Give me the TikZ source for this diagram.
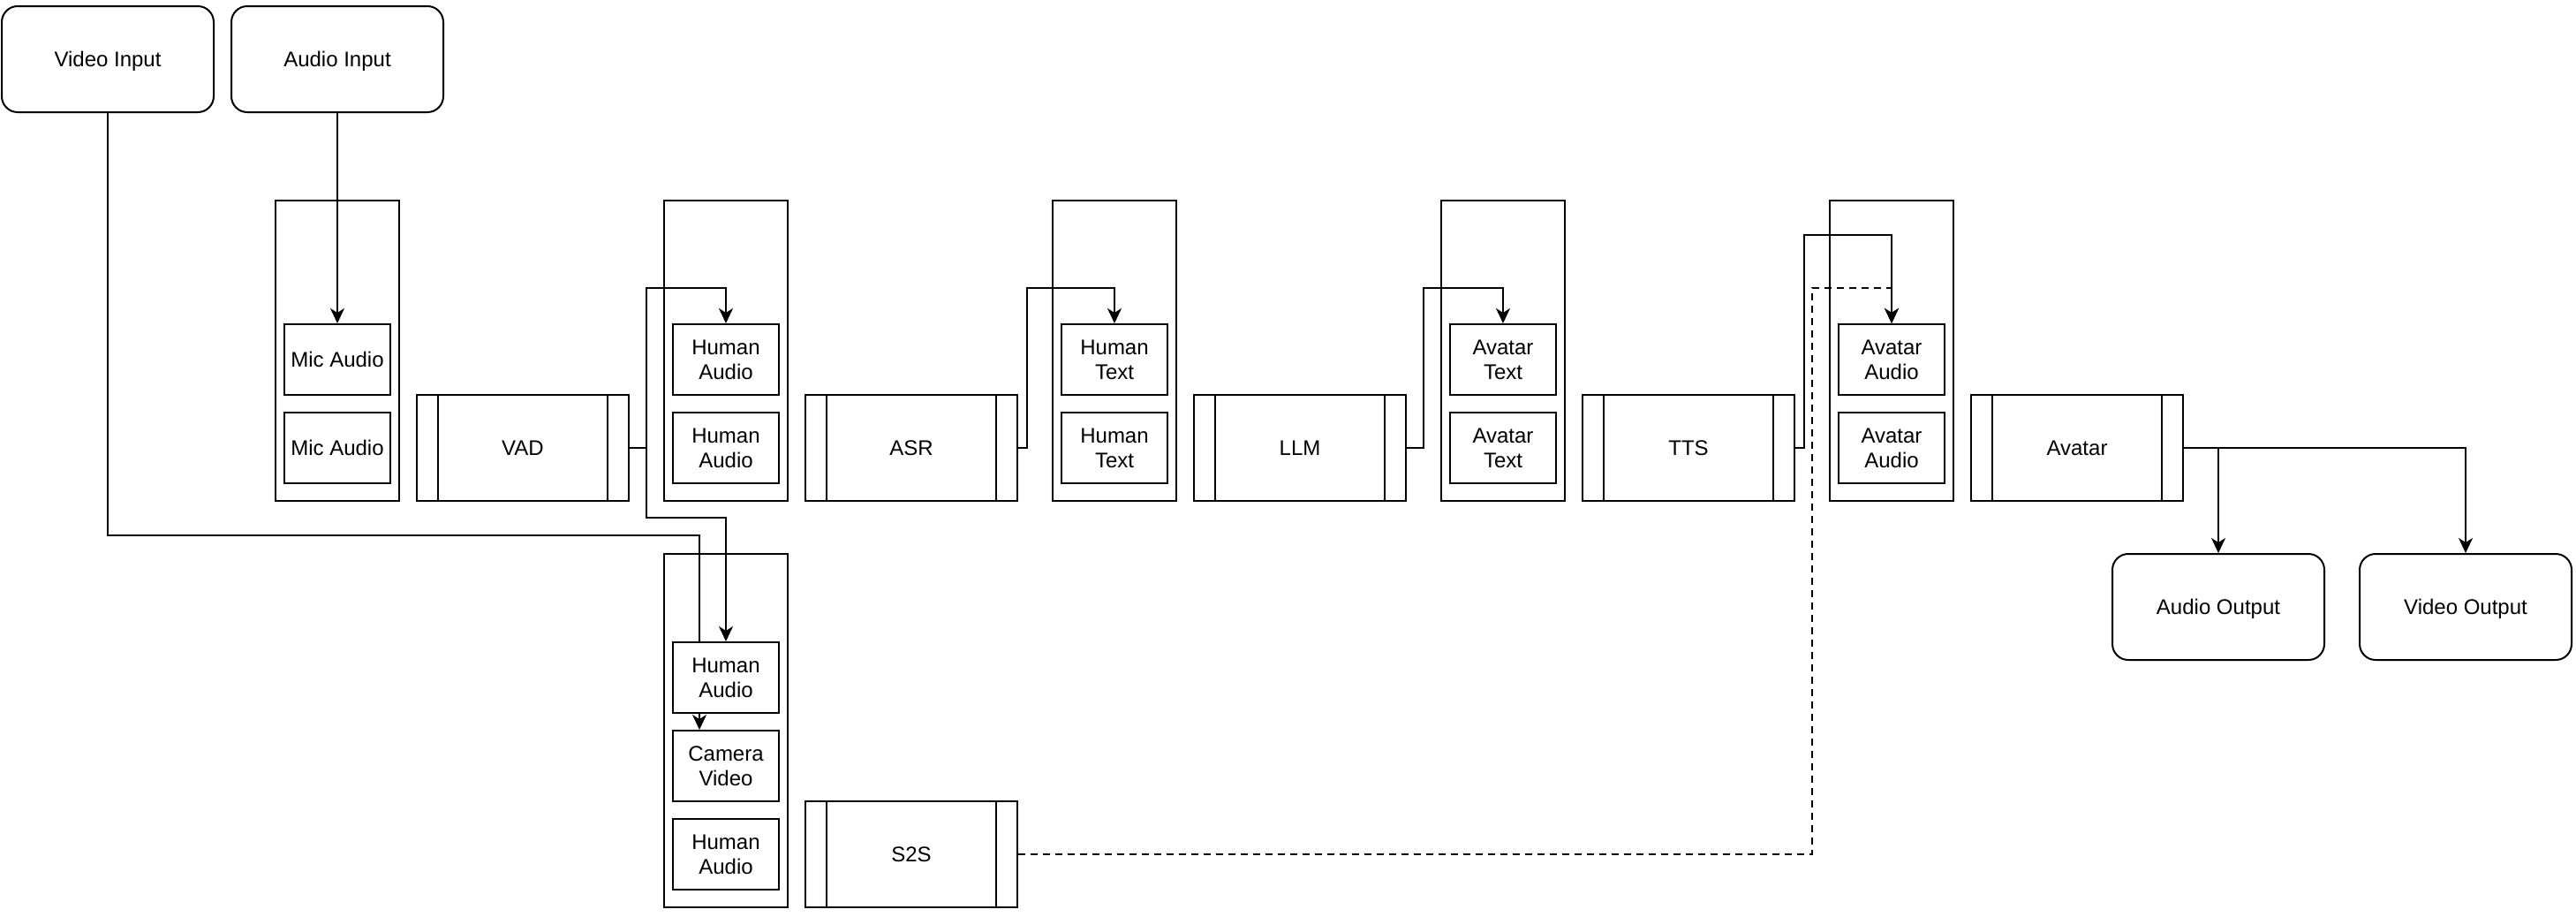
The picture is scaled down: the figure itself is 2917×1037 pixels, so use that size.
\documentclass[tikz,border=0pt]{standalone}
\usepackage{fontspec}
\setmainfont{Liberation Sans}
\usetikzlibrary{arrows.meta,calc}
\pgfdeclarelayer{bg}
\pgfsetlayers{bg,main}
\begin{document}
\begin{tikzpicture}[x=1pt,y=-1pt,
  every node/.style={inner sep=0pt,font=\fontsize{24}{28}\selectfont,align=center},
  iobox/.style={draw,line width=2pt,rounded corners=18pt,minimum width=240pt,minimum height=120pt,text depth=0pt},
  holder/.style={draw,line width=2pt,minimum width=140pt},
  item/.style={draw,line width=2pt,fill=white,minimum width=120pt,minimum height=80pt},
  procbox/.style={draw,line width=2pt,fill=white,minimum width=240pt,minimum height=120pt,
    path picture={\draw[line width=2pt]
      ([xshift=24pt]path picture bounding box.north west) -- ([xshift=24pt]path picture bounding box.south west)
      ([xshift=-24pt]path picture bounding box.north east) -- ([xshift=-24pt]path picture bounding box.south east);}},
  arr/.style={line width=2pt,-{Stealth[length=17pt,width=16pt,inset=5pt]}},
  dashedarr/.style={arr,dash pattern=on 8pt off 6pt}
]
\useasboundingbox (0,0) rectangle (2917,1037);
% inputs / outputs
\node[iobox] (vin) at (122,67) {Video Input};
\node[iobox] (ain) at (382,67) {Audio Input};
\node[iobox] (aout) at (2512,687) {Audio Output};
\node[iobox] (vout) at (2792,687) {Video Output};
% containers
\node[holder,minimum height=340pt] (micC) at (382,397) {};
\node[holder,minimum height=340pt] (haC) at (822,397) {};
\node[holder,minimum height=340pt] (htC) at (1262,397) {};
\node[holder,minimum height=340pt] (atC) at (1702,397) {};
\node[holder,minimum height=340pt] (aaC) at (2142,397) {};
\node[holder,minimum height=400pt] (loC) at (822,827) {};
% items
\node[item,text depth=0pt] (mic1) at (382,407) {Mic Audio};
\node[item,text depth=0pt] (mic2) at (382,507) {Mic Audio};
\node[item] (ha1) at (822,407) {Human\\Audio};
\node[item] (ha2) at (822,507) {Human\\Audio};
\node[item] (ht1) at (1262,407) {Human\\Text};
\node[item] (ht2) at (1262,507) {Human\\Text};
\node[item] (at1) at (1702,407) {Avatar\\Text};
\node[item] (at2) at (1702,507) {Avatar\\Text};
\node[item] (aa1) at (2142,407) {Avatar\\Audio};
\node[item] (aa2) at (2142,507) {Avatar\\Audio};
\node[item] (ha3) at (822,767) {Human\\Audio};
\node[item] (cam) at (822,867) {Camera\\Video};
\node[item] (ha4) at (822,967) {Human\\Audio};
% processes
\node[procbox] (vad) at (592,507) {VAD};
\node[procbox] (asr) at (1032,507) {ASR};
\node[procbox] (llm) at (1472,507) {LLM};
\node[procbox] (tts) at (1912,507) {TTS};
\node[procbox] (avatar) at (2352,507) {Avatar};
\node[procbox] (s2s) at (1032,967) {S2S};
% connectors
\begin{pgfonlayer}{bg}
\draw[dashedarr] (s2s.east) -| ([xshift=-90pt,yshift=40pt]aa1.north) -- ([yshift=40pt]aa1.north) -- (aa1.north);
\draw[arr] (ain.south) -- (mic1.north);
\draw[arr] (vad.east) -- ++(19,0) |- ([yshift=40pt]ha1.north) -- (ha1.north);
\draw[arr] (vad.east) -- ++(19,0) |- ([yshift=140pt]ha3.north) -- (ha3.north);
\draw[arr] (asr.east) -- ++(10,0) |- ([yshift=40pt]ht1.north) -- (ht1.north);
\draw[arr] (llm.east) -- ++(19,0) |- ([yshift=40pt]at1.north) -- (at1.north);
\draw[arr] (tts.east) -- ++(10,0) |- ([yshift=100pt]aa1.north) -- (aa1.north);
\draw[arr] (vin.south) |- ([xshift=-30pt,yshift=220pt]cam.north) -- ([xshift=-30pt]cam.north);
\draw[arr] (avatar.east) -| (aout.north);
\draw[arr] (avatar.east) -| (vout.north);
\end{pgfonlayer}
\end{tikzpicture}
\end{document}
